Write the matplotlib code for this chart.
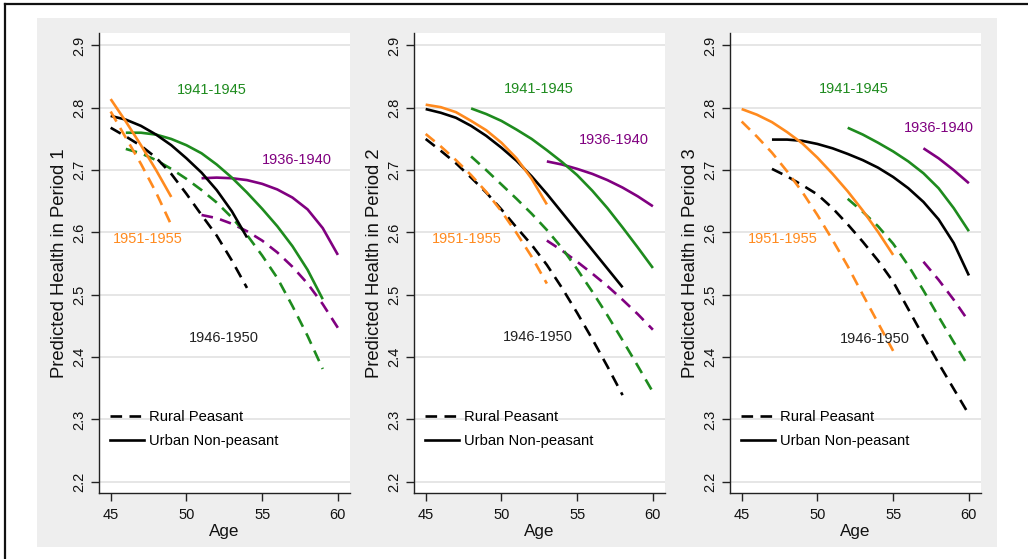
import matplotlib
matplotlib.use("Agg")
import matplotlib.pyplot as plt
from matplotlib.lines import Line2D
from matplotlib.patches import Rectangle

plt.rcParams['font.family'] = ['Liberation Sans', 'DejaVu Sans']

# ---------------- data ----------------
cohorts = ["1936-1940", "1941-1945", "1946-1950", "1951-1955"]
cohort_colors = {"1936-1940": "#800080", "1941-1945": "#1E8B1E",
                 "1946-1950": "#000000", "1951-1955": "#FF8A1E"}
label_colors = {"1936-1940": "#800080", "1941-1945": "#1E8B1E",
                "1946-1950": "#222222", "1951-1955": "#FF8A1E"}
x_ticks = [45, 50, 55, 60]
y_ticks = [2.2, 2.3, 2.4, 2.5, 2.6, 2.7, 2.8, 2.9]
y_labels = ["Predicted Health in Period 1", "Predicted Health in Period 2",
            "Predicted Health in Period 3"]
legend_labels = ["Rural Peasant", "Urban Non-peasant"]

# Period 1
p1_ages_3640 = [51, 52, 53, 54, 55, 56, 57, 58, 59, 60]
p1_urban_3640 = [2.687, 2.688, 2.687, 2.684, 2.678, 2.669, 2.656, 2.637, 2.607, 2.564]
p1_rural_3640 = [2.628, 2.623, 2.614, 2.602, 2.587, 2.568, 2.545, 2.518, 2.485, 2.447]
p1_ages_4145 = [46, 47, 48, 49, 50, 51, 52, 53, 54, 55, 56, 57, 58, 59]
p1_urban_4145 = [2.760, 2.760, 2.757, 2.750, 2.740, 2.727, 2.709, 2.688, 2.664, 2.638,
                 2.610, 2.578, 2.540, 2.493]
p1_rural_4145 = [2.734, 2.727, 2.716, 2.702, 2.686, 2.668, 2.648, 2.624, 2.596, 2.563,
                 2.527, 2.482, 2.434, 2.381]
p1_ages_4650 = [45, 46, 47, 48, 49, 50, 51, 52, 53, 54]
p1_urban_4650 = [2.787, 2.781, 2.771, 2.757, 2.740, 2.719, 2.696, 2.668, 2.634, 2.592]
p1_rural_4650 = [2.768, 2.754, 2.739, 2.720, 2.694, 2.662, 2.628, 2.595, 2.555, 2.511]
p1_ages_5155 = [45, 46, 47, 48, 49]
p1_urban_5155 = [2.814, 2.778, 2.740, 2.700, 2.657]
p1_rural_5155 = [2.794, 2.752, 2.710, 2.664, 2.612]

# Period 2
p2_ages_3640 = [53, 54, 55, 56, 57, 58, 59, 60]
p2_urban_3640 = [2.714, 2.709, 2.702, 2.694, 2.684, 2.672, 2.658, 2.642]
p2_rural_3640 = [2.587, 2.571, 2.553, 2.534, 2.514, 2.492, 2.469, 2.444]
p2_ages_4145 = [48, 49, 50, 51, 52, 53, 54, 55, 56, 57, 58, 59, 60]
p2_urban_4145 = [2.799, 2.790, 2.779, 2.765, 2.750, 2.732, 2.713, 2.692, 2.667, 2.639,
                 2.608, 2.576, 2.543]
p2_rural_4145 = [2.722, 2.700, 2.677, 2.654, 2.630, 2.604, 2.575, 2.541, 2.505, 2.467,
                 2.427, 2.386, 2.344]
p2_ages_4650 = [45, 46, 47, 48, 49, 50, 51, 52, 53, 54, 55, 56, 57, 58]
p2_urban_4650 = [2.798, 2.792, 2.784, 2.771, 2.755, 2.736, 2.715, 2.690, 2.662, 2.632,
                 2.602, 2.572, 2.542, 2.512]
p2_rural_4650 = [2.750, 2.731, 2.711, 2.688, 2.664, 2.637, 2.608, 2.580, 2.548, 2.511,
                 2.471, 2.429, 2.385, 2.339]
p2_ages_5155 = [45, 46, 47, 48, 49, 50, 51, 52, 53]
p2_urban_5155 = [2.805, 2.801, 2.793, 2.779, 2.764, 2.744, 2.719, 2.686, 2.645]
p2_rural_5155 = [2.758, 2.738, 2.716, 2.692, 2.665, 2.634, 2.599, 2.561, 2.518]

# Period 3
p3_ages_3640 = [57, 58, 59, 60]
p3_urban_3640 = [2.735, 2.719, 2.700, 2.679]
p3_rural_3640 = [2.553, 2.524, 2.492, 2.457]
p3_ages_4145 = [52, 53, 54, 55, 56, 57, 58, 59, 60]
p3_urban_4145 = [2.768, 2.757, 2.744, 2.730, 2.714, 2.695, 2.671, 2.639, 2.602]
p3_rural_4145 = [2.654, 2.633, 2.610, 2.582, 2.547, 2.507, 2.465, 2.424, 2.384]
p3_ages_4650 = [47, 48, 49, 50, 51, 52, 53, 54, 55, 56, 57, 58, 59, 60]
p3_urban_4650 = [2.749, 2.749, 2.747, 2.742, 2.735, 2.726, 2.716, 2.704, 2.689, 2.671,
                 2.649, 2.621, 2.583, 2.531]
p3_rural_4650 = [2.702, 2.690, 2.676, 2.661, 2.639, 2.613, 2.585, 2.555, 2.521, 2.477,
                 2.433, 2.390, 2.349, 2.308]
p3_ages_5155 = [45, 46, 47, 48, 49, 50, 51, 52, 53, 54, 55]
p3_urban_5155 = [2.798, 2.789, 2.777, 2.761, 2.743, 2.720, 2.694, 2.666, 2.635, 2.601, 2.564]
p3_rural_5155 = [2.778, 2.754, 2.728, 2.698, 2.665, 2.628, 2.588, 2.546, 2.500, 2.455, 2.410]

panels = [
    {"1936-1940": (p1_ages_3640, p1_urban_3640, p1_rural_3640),
     "1941-1945": (p1_ages_4145, p1_urban_4145, p1_rural_4145),
     "1946-1950": (p1_ages_4650, p1_urban_4650, p1_rural_4650),
     "1951-1955": (p1_ages_5155, p1_urban_5155, p1_rural_5155)},
    {"1936-1940": (p2_ages_3640, p2_urban_3640, p2_rural_3640),
     "1941-1945": (p2_ages_4145, p2_urban_4145, p2_rural_4145),
     "1946-1950": (p2_ages_4650, p2_urban_4650, p2_rural_4650),
     "1951-1955": (p2_ages_5155, p2_urban_5155, p2_rural_5155)},
    {"1936-1940": (p3_ages_3640, p3_urban_3640, p3_rural_3640),
     "1941-1945": (p3_ages_4145, p3_urban_4145, p3_rural_4145),
     "1946-1950": (p3_ages_4650, p3_urban_4650, p3_rural_4650),
     "1951-1955": (p3_ages_5155, p3_urban_5155, p3_rural_5155)},
]

# cohort label placement (data coords) per panel
label_pos = [
    {"1941-1945": (51.7, 2.828), "1936-1940": (57.3, 2.717),
     "1951-1955": (47.45, 2.589), "1946-1950": (52.5, 2.431)},
    {"1941-1945": (52.5, 2.830), "1936-1940": (57.45, 2.748),
     "1951-1955": (47.7, 2.589), "1946-1950": (52.4, 2.433)},
    {"1941-1945": (52.4, 2.830), "1936-1940": (58.0, 2.767),
     "1951-1955": (47.7, 2.589), "1946-1950": (53.8, 2.429)},
]

# ---------------- figure ----------------
W, H = 1028, 559
fig = plt.figure(figsize=(W / 100, H / 100), dpi=100)
fig.patch.set_facecolor("white")

# gray graph region
bg = Rectangle((37 / W, 1 - 547 / H), 960 / W, 529 / H,
               transform=fig.transFigure, facecolor="#EEEEEE",
               edgecolor="none", zorder=-10)
fig.add_artist(bg)
# outer border (top and left)
fig.add_artist(Line2D([5 / W, 1], [1 - 4 / H, 1 - 4 / H], transform=fig.transFigure,
                      color="#111111", lw=1.6, zorder=-5))
fig.add_artist(Line2D([5 / W, 5 / W], [0, 1 - 4 / H], transform=fig.transFigure,
                      color="#111111", lw=1.6, zorder=-5))

lw = 1.9
dash = (4.4, 2.8)
ax_lefts = [99, 414, 730]
for i, left in enumerate(ax_lefts):
    ax = fig.add_axes([left / W, 1 - 493 / H, 251 / W, 460 / H])
    ax.set_zorder(1)
    ax.set_facecolor("white")
    ax.set_xlim(44.23, 60.8)
    ax.set_ylim(2.182, 2.92)
    ax.set_yticks(y_ticks)
    ax.set_yticklabels([f"{t:.1f}" for t in y_ticks], rotation=90, va="center")
    ax.set_xticks(x_ticks)
    ax.set_xticklabels([str(t) for t in x_ticks])
    ax.tick_params(axis="both", direction="out", length=6, width=1.0,
                   color="#222222", labelsize=10.5, labelcolor="#111111")
    ax.tick_params(axis="x", pad=5)
    ax.tick_params(axis="y", pad=3)
    ax.grid(axis="y", color="#E6E6E6", lw=1.4)
    ax.set_axisbelow(True)
    for s in ["top", "right"]:
        ax.spines[s].set_visible(False)
    for s in ["left", "bottom"]:
        ax.spines[s].set_color("#222222")
        ax.spines[s].set_linewidth(1.0)

    for c in cohorts:
        ages, urban, rural = panels[i][c]
        ax.plot(ages, rural, color=cohort_colors[c], lw=lw, dashes=dash,
                dash_capstyle="butt", dash_joinstyle="round")
        ax.plot(ages, urban, color=cohort_colors[c], lw=lw,
                solid_capstyle="butt", solid_joinstyle="round")
        lx, ly = label_pos[i][c]
        ax.text(lx, ly, c, color=label_colors[c], fontsize=10.5,
                ha="center", va="center")

    ax.set_ylabel(y_labels[i], fontsize=13.3, color="#111111", labelpad=3.5)
    ax.set_xlabel("Age", fontsize=12.3, color="#111111", labelpad=1)

    handles = [Line2D([], [], color="black", lw=lw, dashes=dash),
               Line2D([], [], color="black", lw=lw)]
    ax.legend(handles, legend_labels, loc="lower left",
              bbox_to_anchor=(0.044, 0.097), frameon=False, fontsize=10.6,
              handlelength=2.3, handletextpad=0.35, labelspacing=0.7,
              borderpad=0, borderaxespad=0)

fig.savefig("out.png", dpi=100, facecolor="white")
